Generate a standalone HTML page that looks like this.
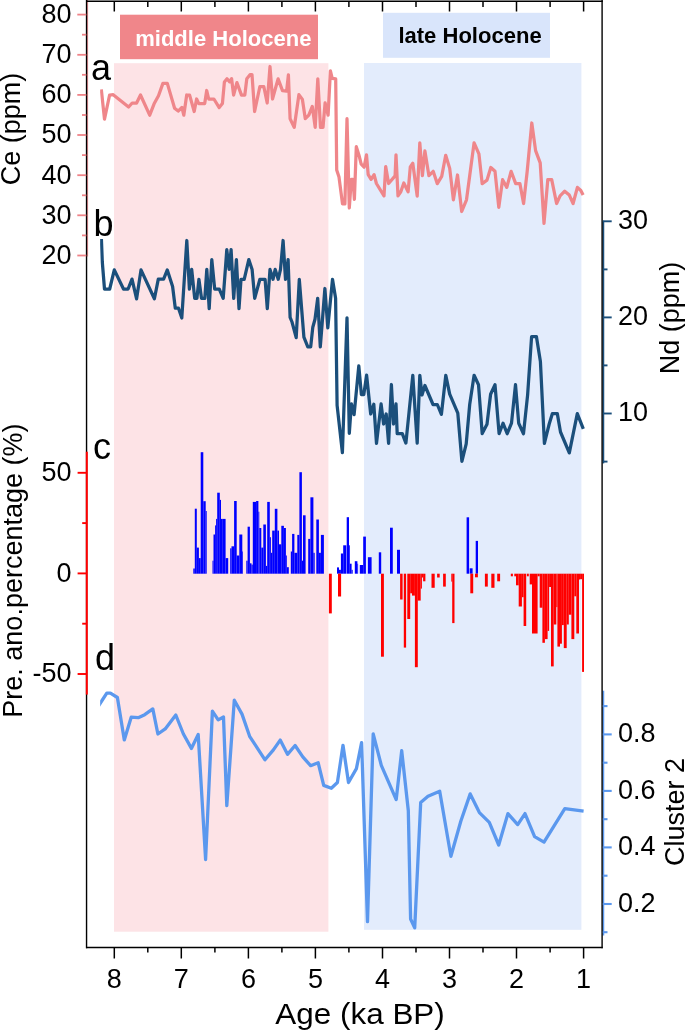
<!DOCTYPE html>
<html><head><meta charset="utf-8"><style>
html,body{margin:0;padding:0;background:#fff;width:685px;height:1032px;overflow:hidden;font-family:"Liberation Sans", sans-serif;}
</style></head><body>
<svg width="685" height="1032" viewBox="0 0 685 1032" style="position:absolute;left:0;top:0;will-change:transform">
<rect x="114" y="63.2" width="214.4" height="868.5" fill="#fde3e6"/>
<rect x="364" y="63" width="217.4" height="866.8" fill="#e3ecfc"/>
<rect x="120" y="14.7" width="198" height="44.5" fill="#f0868a"/>
<rect x="383" y="12.8" width="167" height="45" fill="#d9e5fb"/>
<text x="135.2" y="46.2" font-family='"Liberation Sans", sans-serif' font-weight="bold" font-size="21.8" fill="#fff" textLength="176.3" lengthAdjust="spacingAndGlyphs">middle Holocene</text>
<text x="398.4" y="42.5" font-family='"Liberation Sans", sans-serif' font-weight="bold" font-size="21.8" fill="#000" textLength="143.3" lengthAdjust="spacingAndGlyphs">late Holocene</text>
<rect x="193.3" y="568.5" width="1.50" height="5.20" fill="#0000ff"/>
<rect x="194.8" y="508.7" width="2.00" height="65.00" fill="#0000ff"/>
<rect x="196.8" y="547.6" width="2.10" height="26.10" fill="#0000ff"/>
<rect x="198.9" y="558.1" width="1.80" height="15.60" fill="#0000ff"/>
<rect x="200.7" y="452.2" width="2.60" height="121.50" fill="#0000ff"/>
<rect x="203.3" y="501.2" width="2.40" height="72.50" fill="#0000ff"/>
<rect x="205.7" y="511" width="1.00" height="62.70" fill="#0000ff"/>
<rect x="212.5" y="560.7" width="1.00" height="13.00" fill="#0000ff"/>
<rect x="213.5" y="534.5" width="1.60" height="39.20" fill="#0000ff"/>
<rect x="215.1" y="525.4" width="1.00" height="48.30" fill="#0000ff"/>
<rect x="216.1" y="518.9" width="1.10" height="54.80" fill="#0000ff"/>
<rect x="217.2" y="492.7" width="2.60" height="81.00" fill="#0000ff"/>
<rect x="219.8" y="499.9" width="1.20" height="73.80" fill="#0000ff"/>
<rect x="221" y="518.9" width="1.20" height="54.80" fill="#0000ff"/>
<rect x="222.2" y="518.9" width="3.40" height="54.80" fill="#0000ff"/>
<rect x="225.6" y="558.1" width="2.60" height="15.60" fill="#0000ff"/>
<rect x="230.2" y="548.3" width="1.30" height="25.40" fill="#0000ff"/>
<rect x="231.5" y="546.3" width="2.60" height="27.40" fill="#0000ff"/>
<rect x="234.1" y="501" width="2.60" height="72.70" fill="#0000ff"/>
<rect x="236.7" y="555.5" width="2.60" height="18.20" fill="#0000ff"/>
<rect x="239.3" y="534.5" width="3.00" height="39.20" fill="#0000ff"/>
<rect x="242.3" y="551.5" width="0.70" height="22.20" fill="#0000ff"/>
<rect x="246.3" y="560.7" width="1.30" height="13.00" fill="#0000ff"/>
<rect x="247.6" y="526.7" width="2.30" height="47.00" fill="#0000ff"/>
<rect x="249.9" y="563.3" width="1.60" height="10.40" fill="#0000ff"/>
<rect x="251.5" y="564.6" width="1.30" height="9.10" fill="#0000ff"/>
<rect x="252.8" y="501.9" width="3.30" height="71.80" fill="#0000ff"/>
<rect x="256.1" y="501" width="2.30" height="72.70" fill="#0000ff"/>
<rect x="258.4" y="511.7" width="0.90" height="62.00" fill="#0000ff"/>
<rect x="259.3" y="528" width="2.00" height="45.70" fill="#0000ff"/>
<rect x="261.3" y="547.6" width="2.00" height="26.10" fill="#0000ff"/>
<rect x="263.3" y="524.5" width="2.60" height="49.20" fill="#0000ff"/>
<rect x="265.9" y="565.9" width="1.30" height="7.80" fill="#0000ff"/>
<rect x="267.2" y="501.9" width="2.60" height="71.80" fill="#0000ff"/>
<rect x="269.8" y="537.2" width="1.10" height="36.50" fill="#0000ff"/>
<rect x="270.9" y="552.8" width="1.30" height="20.90" fill="#0000ff"/>
<rect x="272.2" y="530.6" width="2.60" height="43.10" fill="#0000ff"/>
<rect x="274.8" y="508.8" width="2.60" height="64.90" fill="#0000ff"/>
<rect x="277.4" y="530.6" width="1.60" height="43.10" fill="#0000ff"/>
<rect x="279" y="544.3" width="2.30" height="29.40" fill="#0000ff"/>
<rect x="281.3" y="525.8" width="2.60" height="47.90" fill="#0000ff"/>
<rect x="283.9" y="528" width="2.00" height="45.70" fill="#0000ff"/>
<rect x="285.9" y="555.5" width="0.90" height="18.20" fill="#0000ff"/>
<rect x="286.8" y="567.2" width="2.00" height="6.50" fill="#0000ff"/>
<rect x="290.8" y="551.5" width="1.30" height="22.20" fill="#0000ff"/>
<rect x="292.1" y="533.9" width="2.30" height="39.80" fill="#0000ff"/>
<rect x="294.4" y="552.8" width="2.90" height="20.90" fill="#0000ff"/>
<rect x="297.3" y="534.9" width="2.10" height="38.80" fill="#0000ff"/>
<rect x="299.4" y="472.2" width="2.50" height="101.50" fill="#0000ff"/>
<rect x="301.9" y="560.7" width="1.10" height="13.00" fill="#0000ff"/>
<rect x="303" y="515.3" width="2.60" height="58.40" fill="#0000ff"/>
<rect x="308.2" y="538.9" width="2.20" height="34.80" fill="#0000ff"/>
<rect x="310.4" y="497.3" width="3.00" height="76.40" fill="#0000ff"/>
<rect x="313.4" y="552.8" width="1.30" height="20.90" fill="#0000ff"/>
<rect x="316.3" y="519.5" width="2.60" height="54.20" fill="#0000ff"/>
<rect x="318.9" y="552.8" width="2.00" height="20.90" fill="#0000ff"/>
<rect x="320.9" y="534.9" width="3.00" height="38.80" fill="#0000ff"/>
<rect x="337" y="567.4" width="2.00" height="6.30" fill="#0000ff"/>
<rect x="339" y="569.8" width="1.90" height="3.90" fill="#0000ff"/>
<rect x="340.9" y="553.5" width="2.30" height="20.20" fill="#0000ff"/>
<rect x="343.2" y="545.3" width="3.10" height="28.40" fill="#0000ff"/>
<rect x="346.7" y="517.2" width="2.30" height="56.50" fill="#0000ff"/>
<rect x="349" y="545.3" width="0.80" height="28.40" fill="#0000ff"/>
<rect x="349.8" y="563.7" width="1.80" height="10.00" fill="#0000ff"/>
<rect x="351.6" y="569.8" width="1.10" height="3.90" fill="#0000ff"/>
<rect x="354.8" y="561.2" width="2.60" height="12.50" fill="#0000ff"/>
<rect x="357.4" y="563.7" width="0.70" height="10.00" fill="#0000ff"/>
<rect x="359.8" y="565" width="3.40" height="8.70" fill="#0000ff"/>
<rect x="363.2" y="536.6" width="2.70" height="37.10" fill="#0000ff"/>
<rect x="367.9" y="557.2" width="3.70" height="16.50" fill="#0000ff"/>
<rect x="378.8" y="552.3" width="2.40" height="21.40" fill="#0000ff"/>
<rect x="390" y="527.7" width="2.80" height="46.00" fill="#0000ff"/>
<rect x="397" y="549.8" width="3.00" height="23.90" fill="#0000ff"/>
<rect x="466.6" y="517.3" width="2.50" height="56.40" fill="#0000ff"/>
<rect x="469.7" y="568.3" width="2.90" height="5.40" fill="#0000ff"/>
<rect x="475.7" y="540.9" width="2.30" height="32.80" fill="#0000ff"/>
<rect x="328.9" y="573.7" width="2.90" height="39.70" fill="#ff0000"/>
<rect x="338" y="573.7" width="3.10" height="22.80" fill="#ff0000"/>
<rect x="381" y="573.7" width="2.90" height="83.00" fill="#ff0000"/>
<rect x="400.1" y="573.7" width="2.50" height="25.80" fill="#ff0000"/>
<rect x="403.8" y="573.7" width="2.30" height="73.90" fill="#ff0000"/>
<rect x="407.3" y="573.7" width="2.90" height="45.30" fill="#ff0000"/>
<rect x="410.2" y="573.7" width="1.80" height="19.60" fill="#ff0000"/>
<rect x="412" y="573.7" width="2.90" height="21.90" fill="#ff0000"/>
<rect x="414.9" y="573.7" width="2.90" height="93.50" fill="#ff0000"/>
<rect x="417.8" y="573.7" width="2.90" height="26.90" fill="#ff0000"/>
<rect x="420.7" y="573.7" width="1.20" height="14.90" fill="#ff0000"/>
<rect x="421.9" y="573.7" width="1.20" height="3.80" fill="#ff0000"/>
<rect x="423.1" y="573.7" width="2.30" height="7.60" fill="#ff0000"/>
<rect x="431.5" y="573.7" width="3.20" height="14.10" fill="#ff0000"/>
<rect x="437.1" y="573.7" width="2.60" height="3.80" fill="#ff0000"/>
<rect x="443.1" y="573.7" width="2.70" height="12.90" fill="#ff0000"/>
<rect x="451.3" y="573.7" width="1.00" height="7.90" fill="#ff0000"/>
<rect x="452.2" y="573.7" width="2.30" height="49.40" fill="#ff0000"/>
<rect x="470.3" y="573.7" width="2.90" height="19.60" fill="#ff0000"/>
<rect x="475" y="573.7" width="2.90" height="3.60" fill="#ff0000"/>
<rect x="484.9" y="573.7" width="2.90" height="12.90" fill="#ff0000"/>
<rect x="491.3" y="573.7" width="3.20" height="14.10" fill="#ff0000"/>
<rect x="497.2" y="573.7" width="2.90" height="7.60" fill="#ff0000"/>
<rect x="510.8" y="573.7" width="2.10" height="2.60" fill="#ff0000"/>
<rect x="514.3" y="573.7" width="1.70" height="2.60" fill="#ff0000"/>
<rect x="516" y="573.7" width="2.70" height="11.60" fill="#ff0000"/>
<rect x="518.7" y="573.7" width="3.20" height="32.80" fill="#ff0000"/>
<rect x="521.9" y="573.7" width="1.70" height="23.50" fill="#ff0000"/>
<rect x="523.6" y="573.7" width="2.60" height="52.30" fill="#ff0000"/>
<rect x="526.9" y="573.7" width="1.90" height="2.60" fill="#ff0000"/>
<rect x="529.7" y="573.7" width="2.30" height="10.70" fill="#ff0000"/>
<rect x="532" y="573.7" width="5.60" height="59.80" fill="#ff0000"/>
<rect x="537.6" y="573.7" width="2.10" height="2.60" fill="#ff0000"/>
<rect x="539.7" y="573.7" width="2.70" height="34.00" fill="#ff0000"/>
<rect x="542.4" y="573.7" width="2.50" height="69.10" fill="#ff0000"/>
<rect x="544.9" y="573.7" width="2.70" height="65.40" fill="#ff0000"/>
<rect x="547.6" y="573.7" width="1.50" height="57.20" fill="#ff0000"/>
<rect x="549.1" y="573.7" width="1.90" height="13.30" fill="#ff0000"/>
<rect x="551" y="573.7" width="2.70" height="92.70" fill="#ff0000"/>
<rect x="553.7" y="573.7" width="2.60" height="50.80" fill="#ff0000"/>
<rect x="556.3" y="573.7" width="1.10" height="33.40" fill="#ff0000"/>
<rect x="557.4" y="573.7" width="2.60" height="72.90" fill="#ff0000"/>
<rect x="560" y="573.7" width="1.90" height="70.00" fill="#ff0000"/>
<rect x="561.9" y="573.7" width="1.90" height="51.40" fill="#ff0000"/>
<rect x="563.8" y="573.7" width="2.90" height="74.40" fill="#ff0000"/>
<rect x="566.7" y="573.7" width="2.10" height="50.80" fill="#ff0000"/>
<rect x="568.8" y="573.7" width="2.60" height="41.00" fill="#ff0000"/>
<rect x="571.4" y="573.7" width="2.90" height="65.40" fill="#ff0000"/>
<rect x="574.3" y="573.7" width="2.00" height="22.60" fill="#ff0000"/>
<rect x="576.3" y="573.7" width="2.70" height="59.80" fill="#ff0000"/>
<rect x="579" y="573.7" width="1.10" height="5.80" fill="#ff0000"/>
<rect x="580.1" y="573.7" width="2.00" height="5.50" fill="#ff0000"/>
<rect x="582.1" y="573.7" width="1.90" height="98.20" fill="#ff0000"/>
<clipPath id="cc"><rect x="100.15" y="0" width="600" height="1032"/></clipPath>
<polyline clip-path="url(#cc)" points="101.3,89.3 104.5,119.1 109.6,95.0 113.2,94.7 128.6,107.0 132.2,103.0 136.6,103.0 140.5,95.0 149.7,115.2 154.1,103.8 158.5,95.8 162.9,83.4 167.3,83.4 174.6,108.2 178.2,111.1 181.9,107.4 183.8,115.2 186.7,95.0 189.6,95.1 194.2,111.5 196.6,99.0 198.8,103.6 204.7,103.6 206.7,90.5 208.7,99.0 213.9,99.0 219.2,107.6 222.4,103.6 224.4,81.9 227.0,78.7 229.7,81.9 231.6,78.7 233.6,95.1 236.9,82.6 241.5,95.1 244.8,95.1 246.8,78.7 250.0,74.7 252.0,74.7 254.6,111.5 259.9,86.5 263.8,86.5 267.2,103.0 270.0,66.5 272.5,99.0 278.1,78.9 282.5,90.6 286.6,91.2 288.4,74.9 290.1,118.7 294.2,127.4 298.9,94.7 302.4,99.4 305.3,118.7 308.8,115.1 312.3,106.4 315.2,127.4 317.8,78.9 320.5,127.4 323.0,127.4 325.1,102.9 328.1,115.1 330.4,70.8 332.2,78.4 335.7,78.9 336.7,170.0 339.0,177.1 342.5,203.9 344.9,203.9 347.0,118.7 349.3,208.0 351.3,179.4 353.0,179.4 354.4,199.3 356.3,146.7 358.9,154.9 361.2,164.2 364.1,167.2 366.5,154.9 368.2,174.7 371.1,179.4 374.1,174.7 376.4,183.5 384.0,195.8 385.7,166.6 388.6,183.5 395.1,175.9 396.0,154.9 398.0,195.8 400.8,191.8 403.8,183.0 408.1,191.8 410.3,166.9 412.8,163.3 417.2,196.1 419.8,142.8 422.4,175.7 424.9,150.9 428.9,175.7 433.2,171.3 437.3,183.7 441.7,176.4 445.7,155.3 449.7,168.4 453.4,199.8 457.5,175.0 461.7,211.5 466.5,199.8 469.7,175.7 474.1,142.8 478.9,153.8 482.2,183.7 487.0,180.1 490.8,167.5 495.0,171.3 498.8,207.3 502.6,179.7 506.8,187.4 511.1,171.3 515.7,183.6 519.9,183.6 523.6,203.5 527.2,171.3 531.8,123.0 535.6,150.6 540.2,162.9 544.0,223.4 547.8,179.7 551.7,179.7 556.6,203.5 560.1,195.8 564.7,191.2 569.3,195.1 573.1,203.5 577.4,187.4 580.8,190.5 583.1,195.1" fill="none" stroke="#ef868a" stroke-width="3.25" stroke-linejoin="round"/>
<polyline clip-path="url(#cc)" points="101.4,239.0 102.3,262.0 104.5,289.0 109.7,289.0 114.3,269.9 123.5,289.0 128.1,289.0 132.0,279.1 136.6,298.8 141.0,269.9 154.4,298.8 158.3,279.1 163.6,279.1 167.3,269.9 172.6,286.5 175.3,308.2 178.5,308.2 181.8,318.0 186.8,240.5 189.4,289.1 191.7,269.4 194.7,298.3 196.9,298.3 198.9,279.3 201.5,298.3 204.8,298.3 206.8,269.4 209.2,308.6 211.8,259.6 214.7,289.1 219.3,289.1 223.2,298.3 226.8,249.7 229.1,269.4 231.1,249.7 233.7,298.3 236.4,259.6 239.0,308.6 241.0,279.3 244.2,279.3 248.8,259.6 252.1,269.4 254.7,298.3 259.9,279.3 265.1,279.3 267.3,308.6 270.0,269.4 273.0,279.3 275.2,269.4 278.2,279.3 280.5,269.4 283.1,240.5 285.5,279.3 288.1,259.6 290.1,317.4 292.0,322.0 296.2,337.7 299.3,279.3 303.9,337.1 307.8,346.9 310.7,346.9 312.8,327.2 315.0,319.3 317.7,298.3 320.3,346.9 324.9,288.5 327.8,327.9 332.5,279.3 335.6,298.3 337.1,405.4 342.4,452.7 347.0,317.8 349.3,433.3 351.4,403.9 354.1,414.7 358.8,365.9 361.4,394.6 363.8,394.6 366.6,375.2 370.7,414.0 373.8,404.2 376.5,443.4 381.1,403.9 383.6,424.0 386.2,414.0 388.6,443.4 391.4,384.5 393.5,424.0 396.0,403.9 397.2,433.6 402.3,433.6 405.9,443.1 412.8,375.3 417.2,443.1 419.8,375.3 422.0,395.0 424.9,385.5 433.0,404.5 437.3,404.5 441.4,414.4 445.8,375.3 449.7,394.2 457.8,413.2 461.9,461.4 466.2,443.9 469.7,404.5 474.1,375.3 478.5,384.7 482.2,433.6 487.0,424.2 490.6,394.3 495.0,384.7 499.1,433.7 503.0,423.2 507.2,433.7 511.5,423.2 515.5,384.7 518.7,423.2 523.5,433.7 527.6,395.1 531.6,336.5 536.4,336.5 540.4,361.4 544.4,443.3 549.2,424.0 552.4,413.6 557.3,413.6 560.5,432.0 569.3,452.9 577.3,413.6 583.3,428.8" fill="none" stroke="#1b4f7b" stroke-width="3.25" stroke-linejoin="round"/>
<polyline clip-path="url(#cc)" points="97.5,707.5 106.8,693.1 110.4,693.1 117.4,697.5 124.3,739.9 131.2,717.2 138.2,717.7 144.7,714.7 152.8,708.9 157.9,734.0 165.2,728.9 175.8,715.0 183.4,734.0 191.4,748.4 198.2,734.5 205.6,859.5 212.4,711.2 218.2,719.9 223.5,717.0 226.8,805.7 234.3,700.2 242.0,714.1 249.8,736.7 265.0,759.8 273.4,749.9 280.2,740.1 287.5,754.3 295.1,745.5 302.8,756.9 310.6,765.7 318.2,762.8 323.7,785.4 331.3,788.3 337.4,782.5 343.0,745.3 348.5,782.5 356.4,768.6 361.6,742.6 367.5,921.7 373.2,733.9 381.3,765.3 396.2,799.6 401.7,750.7 408.3,810.5 410.6,919.0 414.7,927.9 420.7,802.5 428.0,796.3 439.7,791.2 450.9,856.3 460.8,821.3 470.2,793.9 479.4,812.6 489.3,822.4 498.7,845.0 507.9,813.6 517.7,824.6 525.0,813.6 534.6,836.6 544.0,842.1 564.8,808.7 583.6,811.2" fill="none" stroke="#5b98ee" stroke-width="3.3" stroke-linejoin="round"/>
<line x1="603.4" y1="220.7" x2="603.4" y2="463.4" stroke="#1b4f7b" stroke-width="1.7"/>
<line x1="603.4" y1="690.7" x2="603.4" y2="935.5" stroke="#5b98ee" stroke-width="1.7"/>
<line x1="87.6" y1="0" x2="87.6" y2="256.5" stroke="#ef8388" stroke-width="0.9"/>
<g stroke="#000" stroke-width="1.4" fill="none">
<line x1="86" y1="1.3" x2="602.8" y2="1.3"/>
<line x1="86.55" y1="0" x2="86.55" y2="948.2"/>
<line x1="602.1" y1="0" x2="602.1" y2="948.2"/>
<line x1="86" y1="947.5" x2="602.7" y2="947.5"/>
</g>
<g stroke="#000" stroke-width="1.5">
<line x1="114.3" y1="947.5" x2="114.3" y2="958.5"/>
<line x1="114.3" y1="1" x2="114.3" y2="11.5"/>
<line x1="147.8" y1="947.5" x2="147.8" y2="952.5"/>
<line x1="147.8" y1="1" x2="147.8" y2="7"/>
<line x1="181.3" y1="947.5" x2="181.3" y2="958.5"/>
<line x1="181.3" y1="1" x2="181.3" y2="11.5"/>
<line x1="214.9" y1="947.5" x2="214.9" y2="952.5"/>
<line x1="214.9" y1="1" x2="214.9" y2="7"/>
<line x1="248.4" y1="947.5" x2="248.4" y2="958.5"/>
<line x1="248.4" y1="1" x2="248.4" y2="11.5"/>
<line x1="281.9" y1="947.5" x2="281.9" y2="952.5"/>
<line x1="281.9" y1="1" x2="281.9" y2="7"/>
<line x1="315.4" y1="947.5" x2="315.4" y2="958.5"/>
<line x1="315.4" y1="1" x2="315.4" y2="11.5"/>
<line x1="348.9" y1="947.5" x2="348.9" y2="952.5"/>
<line x1="348.9" y1="1" x2="348.9" y2="7"/>
<line x1="382.5" y1="947.5" x2="382.5" y2="958.5"/>
<line x1="382.5" y1="1" x2="382.5" y2="11.5"/>
<line x1="416.0" y1="947.5" x2="416.0" y2="952.5"/>
<line x1="416.0" y1="1" x2="416.0" y2="7"/>
<line x1="449.5" y1="947.5" x2="449.5" y2="958.5"/>
<line x1="449.5" y1="1" x2="449.5" y2="11.5"/>
<line x1="483.0" y1="947.5" x2="483.0" y2="952.5"/>
<line x1="483.0" y1="1" x2="483.0" y2="7"/>
<line x1="516.5" y1="947.5" x2="516.5" y2="958.5"/>
<line x1="516.5" y1="1" x2="516.5" y2="11.5"/>
<line x1="550.1" y1="947.5" x2="550.1" y2="952.5"/>
<line x1="550.1" y1="1" x2="550.1" y2="7"/>
<line x1="583.6" y1="947.5" x2="583.6" y2="958.5"/>
<line x1="583.6" y1="1" x2="583.6" y2="11.5"/>
</g>
<text x="114.3" y="987.5" font-family='"Liberation Sans", sans-serif' font-size="27" text-anchor="middle">8</text>
<text x="181.3" y="987.5" font-family='"Liberation Sans", sans-serif' font-size="27" text-anchor="middle">7</text>
<text x="248.4" y="987.5" font-family='"Liberation Sans", sans-serif' font-size="27" text-anchor="middle">6</text>
<text x="315.4" y="987.5" font-family='"Liberation Sans", sans-serif' font-size="27" text-anchor="middle">5</text>
<text x="382.5" y="987.5" font-family='"Liberation Sans", sans-serif' font-size="27" text-anchor="middle">4</text>
<text x="449.5" y="987.5" font-family='"Liberation Sans", sans-serif' font-size="27" text-anchor="middle">3</text>
<text x="516.5" y="987.5" font-family='"Liberation Sans", sans-serif' font-size="27" text-anchor="middle">2</text>
<text x="583.6" y="987.5" font-family='"Liberation Sans", sans-serif' font-size="27" text-anchor="middle">1</text>
<text x="275.3" y="1024.4" font-family='"Liberation Sans", sans-serif' font-size="30.2" textLength="169.5" lengthAdjust="spacingAndGlyphs">Age (ka BP)</text>
<line x1="77.3" y1="14.6" x2="86.3" y2="14.6" stroke="#ef8388" stroke-width="1.8"/>
<text x="71.5" y="22.9" font-family='"Liberation Sans", sans-serif' font-size="27" text-anchor="end">80</text>
<line x1="82" y1="34.7" x2="86.3" y2="34.7" stroke="#ef8388" stroke-width="1.8"/>
<line x1="77.3" y1="54.8" x2="86.3" y2="54.8" stroke="#ef8388" stroke-width="1.8"/>
<text x="71.5" y="63.0" font-family='"Liberation Sans", sans-serif' font-size="27" text-anchor="end">70</text>
<line x1="82" y1="74.8" x2="86.3" y2="74.8" stroke="#ef8388" stroke-width="1.8"/>
<line x1="77.3" y1="94.9" x2="86.3" y2="94.9" stroke="#ef8388" stroke-width="1.8"/>
<text x="71.5" y="103.2" font-family='"Liberation Sans", sans-serif' font-size="27" text-anchor="end">60</text>
<line x1="82" y1="115.0" x2="86.3" y2="115.0" stroke="#ef8388" stroke-width="1.8"/>
<line x1="77.3" y1="135.0" x2="86.3" y2="135.0" stroke="#ef8388" stroke-width="1.8"/>
<text x="71.5" y="143.3" font-family='"Liberation Sans", sans-serif' font-size="27" text-anchor="end">50</text>
<line x1="82" y1="155.1" x2="86.3" y2="155.1" stroke="#ef8388" stroke-width="1.8"/>
<line x1="77.3" y1="175.2" x2="86.3" y2="175.2" stroke="#ef8388" stroke-width="1.8"/>
<text x="71.5" y="183.5" font-family='"Liberation Sans", sans-serif' font-size="27" text-anchor="end">40</text>
<line x1="82" y1="195.3" x2="86.3" y2="195.3" stroke="#ef8388" stroke-width="1.8"/>
<line x1="77.3" y1="215.3" x2="86.3" y2="215.3" stroke="#ef8388" stroke-width="1.8"/>
<text x="71.5" y="223.6" font-family='"Liberation Sans", sans-serif' font-size="27" text-anchor="end">30</text>
<line x1="82" y1="235.4" x2="86.3" y2="235.4" stroke="#ef8388" stroke-width="1.8"/>
<line x1="77.3" y1="255.5" x2="86.3" y2="255.5" stroke="#ef8388" stroke-width="1.8"/>
<text x="71.5" y="263.8" font-family='"Liberation Sans", sans-serif' font-size="27" text-anchor="end">20</text>
<text transform="translate(20.4,128.9) rotate(-90)" font-family='"Liberation Sans", sans-serif' font-size="27" text-anchor="middle">Ce (ppm)</text>
<line x1="86.8" y1="451.7" x2="86.8" y2="694.6" stroke="#ff0000" stroke-width="2"/>
<line x1="77.6" y1="472.8" x2="87" y2="472.8" stroke="#ff0000" stroke-width="1.9"/>
<text x="71.5" y="481.1" font-family='"Liberation Sans", sans-serif' font-size="27" text-anchor="end">50</text>
<line x1="82.2" y1="523.1" x2="87" y2="523.1" stroke="#ff0000" stroke-width="1.9"/>
<line x1="77.6" y1="573.4" x2="87" y2="573.4" stroke="#ff0000" stroke-width="1.9"/>
<text x="71.5" y="581.7" font-family='"Liberation Sans", sans-serif' font-size="27" text-anchor="end">0</text>
<line x1="82.2" y1="623.7" x2="87" y2="623.7" stroke="#ff0000" stroke-width="1.9"/>
<line x1="77.6" y1="674.0" x2="87" y2="674.0" stroke="#ff0000" stroke-width="1.9"/>
<text x="71.5" y="682.2" font-family='"Liberation Sans", sans-serif' font-size="27" text-anchor="end">-50</text>
<text transform="translate(22.4,570.6) rotate(-90)" font-family='"Liberation Sans", sans-serif' font-size="27" text-anchor="middle">Pre. ano.percentage (%)</text>
<line x1="602.8" y1="221.3" x2="611.7" y2="221.3" stroke="#1b4f7b" stroke-width="1.9"/>
<text x="618" y="229.0" font-family='"Liberation Sans", sans-serif' font-size="27">30</text>
<line x1="602.8" y1="269.4" x2="607.5" y2="269.4" stroke="#1b4f7b" stroke-width="1.9"/>
<line x1="602.8" y1="317.4" x2="611.7" y2="317.4" stroke="#1b4f7b" stroke-width="1.9"/>
<text x="618" y="325.1" font-family='"Liberation Sans", sans-serif' font-size="27">20</text>
<line x1="602.8" y1="365.4" x2="607.5" y2="365.4" stroke="#1b4f7b" stroke-width="1.9"/>
<line x1="602.8" y1="413.5" x2="611.7" y2="413.5" stroke="#1b4f7b" stroke-width="1.9"/>
<text x="618" y="421.2" font-family='"Liberation Sans", sans-serif' font-size="27">10</text>
<line x1="602.8" y1="461.6" x2="607.5" y2="461.6" stroke="#1b4f7b" stroke-width="1.9"/>
<text transform="translate(678.6,318) rotate(-90)" font-family='"Liberation Sans", sans-serif' font-size="27" text-anchor="middle">Nd (ppm)</text>
<line x1="602.8" y1="706.1" x2="607.5" y2="706.1" stroke="#5b98ee" stroke-width="2.1"/>
<line x1="602.8" y1="734.4" x2="611.7" y2="734.4" stroke="#5b98ee" stroke-width="2.1"/>
<text x="618" y="742.0" font-family='"Liberation Sans", sans-serif' font-size="27">0.8</text>
<line x1="602.8" y1="762.7" x2="607.5" y2="762.7" stroke="#5b98ee" stroke-width="2.1"/>
<line x1="602.8" y1="790.9" x2="611.7" y2="790.9" stroke="#5b98ee" stroke-width="2.1"/>
<text x="618" y="798.5" font-family='"Liberation Sans", sans-serif' font-size="27">0.6</text>
<line x1="602.8" y1="819.2" x2="607.5" y2="819.2" stroke="#5b98ee" stroke-width="2.1"/>
<line x1="602.8" y1="847.4" x2="611.7" y2="847.4" stroke="#5b98ee" stroke-width="2.1"/>
<text x="618" y="855.0" font-family='"Liberation Sans", sans-serif' font-size="27">0.4</text>
<line x1="602.8" y1="875.7" x2="607.5" y2="875.7" stroke="#5b98ee" stroke-width="2.1"/>
<line x1="602.8" y1="904.0" x2="611.7" y2="904.0" stroke="#5b98ee" stroke-width="2.1"/>
<text x="618" y="911.6" font-family='"Liberation Sans", sans-serif' font-size="27">0.2</text>
<line x1="602.8" y1="932.2" x2="607.5" y2="932.2" stroke="#5b98ee" stroke-width="2.1"/>
<text transform="translate(684.3,812) rotate(-90)" font-family='"Liberation Sans", sans-serif' font-size="27" text-anchor="middle">Cluster 2</text>
<text x="91" y="80.2" font-family='"Liberation Sans", sans-serif' font-size="36">a</text>
<text x="93.5" y="235.7" font-family='"Liberation Sans", sans-serif' font-size="36">b</text>
<text x="93" y="459" font-family='"Liberation Sans", sans-serif' font-size="36">c</text>
<text x="95" y="669.5" font-family='"Liberation Sans", sans-serif' font-size="36">d</text>
</svg>
</body></html>
